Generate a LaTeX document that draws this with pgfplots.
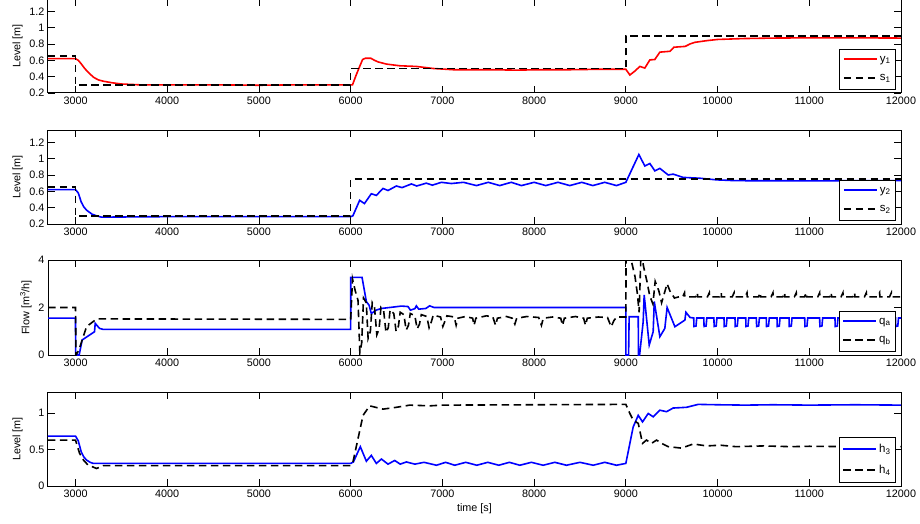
\documentclass[border=0pt]{standalone}
\usepackage{fontspec}
\setmainfont{Liberation Sans}
\usepackage{pgfplots}
\pgfplotsset{compat=1.18}

\pgfplotsset{
  panel/.style={
    scale only axis, width=853pt, height=94pt,
    xmin=2700, xmax=12000,
    xtick={3000,4000,5000,6000,7000,8000,9000,10000,11000,12000},
    scaled x ticks=false,
    /pgf/number format/assume math mode=true,
    /pgf/number format/set thousands separator={},
    tick label style={font=\fontsize{10.8}{12}\selectfont},
    label style={font=\fontsize{10.8}{12}\selectfont},
    axis line style={line width=1pt},
    tick style={black, line width=0.8pt},
    major tick length=7pt,
    legend style={at={(0.994,0.035)}, anchor=south east, draw=black, thick,
      fill=white, font=\fontsize{11.5}{13}\selectfont, inner xsep=3pt, inner ysep=5pt,
      row sep=7pt, cells={anchor=west}},
    legend image code/.code={\draw[##1, line width=2pt] (0pt,0.5pt) -- (33pt,0.5pt);},
  },
  ref/.style={black, line width=1.6pt, dash pattern=on 7.5pt off 4.5pt},
}

\begin{document}
\begin{tikzpicture}
\useasboundingbox (0pt,0pt) rectangle (920pt,-524pt);

% panel 1: y1 / s1
\begin{axis}[panel, at={(48pt,-93pt)}, anchor=south west,
  ymin=0.2, ymax=1.35, ytick={0.2,0.4,0.6,0.8,1,1.2}, ylabel={Level [m]}]
\addplot[red, line width=1.6pt] coordinates {
(2700,0.62)(3000,0.62)(3030,0.60)(3060,0.56)(3100,0.50)(3150,0.44)(3200,0.39)(3250,0.36)
(3300,0.345)(3400,0.325)(3500,0.31)(3700,0.30)(4500,0.30)(5000,0.295)(5500,0.30)(6000,0.30)
(6020,0.30)(6060,0.42)(6100,0.53)(6130,0.61)(6160,0.625)(6220,0.625)(6260,0.60)(6300,0.58)
(6389,0.554)(6535,0.533)(6716,0.525)(6898,0.50)(7116,0.485)(7500,0.485)(7800,0.48)
(8100,0.485)(8400,0.485)(8700,0.49)(9000,0.49)
(9044,0.42)(9100,0.47)(9153,0.525)(9207,0.505)(9262,0.605)(9316,0.61)(9371,0.70)(9480,0.71)
(9524,0.76)(9647,0.77)(9700,0.80)(9753,0.82)(9880,0.84)(10000,0.855)(10280,0.866)
(10600,0.872)(11000,0.875)(11500,0.875)(12000,0.872)};
\addplot[ref] coordinates {
(2700,0.65)(3000,0.65)(3000,0.30)(6000,0.30)(6000,0.50)(9000,0.50)(9000,0.90)(12000,0.90)};
\legend{y\textsubscript{1}, s\textsubscript{1}}
\end{axis}

% panel 2: y2 / s2
\begin{axis}[panel, at={(48pt,-224pt)}, anchor=south west,
  ymin=0.2, ymax=1.35, ytick={0.2,0.4,0.6,0.8,1,1.2}, ylabel={Level [m]}]
\addplot[blue, line width=1.6pt] coordinates {
(2700,0.62)(3000,0.62)(3030,0.58)(3062,0.47)(3090,0.41)(3120,0.37)(3180,0.32)(3229,0.30)
(3280,0.285)(3400,0.285)(4000,0.29)(5000,0.29)(6000,0.29)(6024,0.30)(6098,0.49)(6150,0.45)
(6225,0.57)(6280,0.55)(6352,0.635)(6407,0.61)(6498,0.665)(6560,0.645)(6662,0.69)(6720,0.665)
(6825,0.70)(6890,0.675)(6989,0.71)(7098,0.695)(7230,0.71)(7371,0.67)(7500,0.71)(7625,0.67)
(7750,0.71)(7862,0.67)(8000,0.71)(8127,0.67)(8260,0.71)(8389,0.67)(8520,0.71)(8640,0.67)
(8770,0.71)(8898,0.67)(9000,0.71)(9142,1.05)(9207,0.91)(9262,0.94)(9316,0.85)(9371,0.88)
(9462,0.80)(9516,0.81)(9625,0.77)(9807,0.76)(9989,0.74)(10200,0.73)(11000,0.728)(12000,0.73)};
\addplot[ref] coordinates {
(2700,0.65)(3000,0.65)(3000,0.30)(6000,0.30)(6000,0.75)(12000,0.75)};
\legend{y\textsubscript{2}, s\textsubscript{2}}
\end{axis}

% panel 3: qa / qb
\begin{axis}[panel, at={(48pt,-355pt)}, anchor=south west, height=95pt,
  ymin=0, ymax=4, ytick={0,2,4}, ylabel={Flow [m\textsuperscript{3}/h]}]
\addplot[blue, line width=1.6pt] coordinates {
(2700,1.55)(3000,1.55)(3001,0)(3040,0)(3072,0.63)(3207,0.98)(3215,1.33)(3262,1.12)(3300,1.08)
(6000,1.08)(6001,3.27)(6124,3.27)(6171,2.25)(6200,2.1)(6225,1.75)(6280,1.89)(6335,1.96)
(6425,2.0)(6553,2.06)(6625,2.04)(6651,1.89)(6700,1.95)(6716,2.07)(6742,1.93)(6820,1.96)
(6860,2.07)(6910,2.0)(9000,2.0)(9001,0)(9030,0)(9036,1.61)(9135,1.61)(9138,0)(9150,0)
(9189,1.40)(9200,2.53)(9255,0.42)(9298,0.98)(9310,2.25)(9371,0.77)(9425,1.12)(9450,2.0)
(9535,1.19)(9644,1.47)(9655,1.80)(9700,1.58)
(9740,1.56)(9743,1.2)(9765,1.22)(9773,1.56)
(9850,1.56)(9853,1.2)(9875,1.22)(9883,1.56)
(9960,1.56)(9963,1.2)(9985,1.22)(9993,1.56)
(10070,1.56)(10073,1.2)(10095,1.22)(10103,1.56)
(10190,1.56)(10193,1.2)(10215,1.22)(10223,1.56)
(10307,1.56)(10310,1.2)(10332,1.22)(10340,1.56)
(10423,1.56)(10426,1.2)(10448,1.22)(10456,1.56)
(10531,1.56)(10534,1.2)(10556,1.22)(10564,1.56)
(10648,1.56)(10651,1.2)(10673,1.22)(10681,1.56)
(10779,1.56)(10782,1.2)(10804,1.22)(10812,1.56)
(10950,1.56)(10953,1.2)(10975,1.22)(10983,1.56)
(11113,1.56)(11116,1.2)(11138,1.22)(11146,1.56)
(11280,1.56)(11283,1.2)(11305,1.22)(11313,1.56)
(11450,1.56)(11453,1.2)(11475,1.22)(11483,1.56)
(11620,1.56)(11623,1.2)(11645,1.22)(11653,1.56)
(11790,1.56)(11793,1.2)(11815,1.22)(11823,1.56)
(11940,1.56)(11943,1.2)(11965,1.22)(11973,1.56)(12000,1.56)};
\addplot[ref] coordinates {
(2700,2.0)(3000,2.0)(3005,0)(3036,0.2)(3120,1.19)(3230,1.52)(6000,1.5)
(6020,3.2)(6050,2.7)(6080,2.3)(6100,0.1)(6120,0.5)(6140,2.4)(6170,2.2)(6190,0.7)(6215,1.0)
(6235,2.2)(6260,2.0)(6285,0.85)(6310,1.1)(6330,2.0)(6360,1.85)(6385,0.95)(6410,1.15)
(6430,1.9)(6470,1.75)(6495,1.0)(6520,1.2)(6540,1.8)(6580,1.7)(6605,1.05)(6630,1.25)
(6650,1.75)(6700,1.65)(6725,1.1)(6750,1.3)(6770,1.7)(6830,1.62)(6855,1.15)(6880,1.4)
(6900,1.68)(6980,1.6)(7005,1.2)(7030,1.45)(7050,1.65)(7130,1.6)(7150,1.25)(7170,1.55)
(7250,1.62)(7330,1.55)(7345,1.25)(7365,1.55)(7480,1.65)(7550,1.6)(7580,1.25)(7600,1.55)
(7700,1.62)(7760,1.55)(7790,1.3)(7810,1.55)(7920,1.62)(8050,1.58)(8080,1.25)(8100,1.55)
(8200,1.6)(8290,1.55)(8310,1.25)(8330,1.55)(8450,1.62)(8540,1.55)(8560,1.25)(8580,1.55)
(8700,1.6)(8800,1.58)(8840,1.19)(8870,1.45)(8900,1.6)(9000,1.6)
(9003,4.6)(9030,4.4)(9070,3.8)(9100,3.3)(9125,2.6)(9145,1.8)(9165,4.3)(9195,3.7)(9230,3.1)
(9260,2.5)(9295,2.15)(9320,3.1)(9360,2.7)(9390,2.2)(9450,3.0)(9480,2.7)(9530,2.4)(9580,2.45)
(9620,2.45)(9640,2.62)(9643,2.45)(9760,2.45)(9780,2.62)(9783,2.45)
(9890,2.45)(9910,2.62)(9913,2.45)(10020,2.45)(10040,2.62)(10043,2.45)
(10160,2.45)(10180,2.62)(10183,2.45)(10301,2.45)(10321,2.62)(10324,2.45)
(10446,2.45)(10466,2.62)(10469,2.45)(10584,2.45)(10604,2.62)(10607,2.45)
(10711,2.45)(10731,2.62)(10734,2.45)(10838,2.45)(10858,2.62)(10861,2.45)
(10948,2.45)(10968,2.62)(10971,2.45)(11093,2.45)(11113,2.62)(11116,2.45)
(11220,2.45)(11240,2.62)(11243,2.45)(11347,2.45)(11367,2.62)(11370,2.45)
(11475,2.45)(11495,2.62)(11498,2.45)(11602,2.45)(11622,2.62)(11625,2.45)
(11747,2.45)(11767,2.62)(11770,2.45)(11875,2.45)(11895,2.62)(11898,2.45)(12000,2.45)};
\legend{q\textsubscript{a}, q\textsubscript{b}}
\end{axis}

% panel 4: h3 / h4
\begin{axis}[panel, at={(48pt,-486pt)}, anchor=south west,
  ymin=0, ymax=1.29, ytick={0,0.5,1}, ylabel={Level [m]}, xlabel={time [s]}]
\addplot[blue, line width=1.6pt] coordinates {
(2700,0.685)(3000,0.685)(3030,0.62)(3062,0.47)(3090,0.40)(3120,0.356)(3160,0.325)(3193,0.31)
(3300,0.31)(6000,0.31)(6030,0.33)(6105,0.54)(6171,0.34)(6225,0.42)(6280,0.31)(6335,0.37)
(6407,0.30)(6480,0.35)(6540,0.30)(6607,0.33)(6700,0.30)(6800,0.325)(6935,0.285)(7035,0.325)
(7135,0.285)(7255,0.325)(7375,0.285)(7495,0.325)(7615,0.285)(7730,0.325)(7844,0.285)
(7970,0.325)(8098,0.285)(8225,0.325)(8353,0.285)(8500,0.325)(8644,0.285)(8770,0.325)
(8898,0.285)(9000,0.31)(9080,0.81)(9135,0.97)(9182,0.88)(9244,0.995)(9298,0.95)(9371,1.04)
(9444,1.02)(9516,1.07)(9662,1.08)(9789,1.12)(10000,1.115)(10300,1.11)(10600,1.115)
(11000,1.11)(11500,1.115)(12000,1.11)};
\addplot[ref] coordinates {
(2700,0.63)(3000,0.63)(3044,0.45)(3090,0.35)(3135,0.29)(3230,0.24)(3300,0.28)(6000,0.28)
(6025,0.33)(6080,0.65)(6135,0.97)(6207,1.10)(6353,1.055)(6498,1.08)(6644,1.11)(6862,1.10)
(7000,1.11)(9000,1.12)(9044,0.995)(9080,0.904)(9135,0.86)(9182,0.585)(9225,0.63)(9280,0.585)
(9335,0.63)(9390,0.585)(9462,0.54)(9607,0.52)(9735,0.577)(9880,0.55)(10030,0.56)(10200,0.54)
(10500,0.55)(10800,0.54)(11000,0.545)(11500,0.54)(12000,0.54)};
\legend{h\textsubscript{3}, h\textsubscript{4}}
\end{axis}
\end{tikzpicture}
\end{document}
